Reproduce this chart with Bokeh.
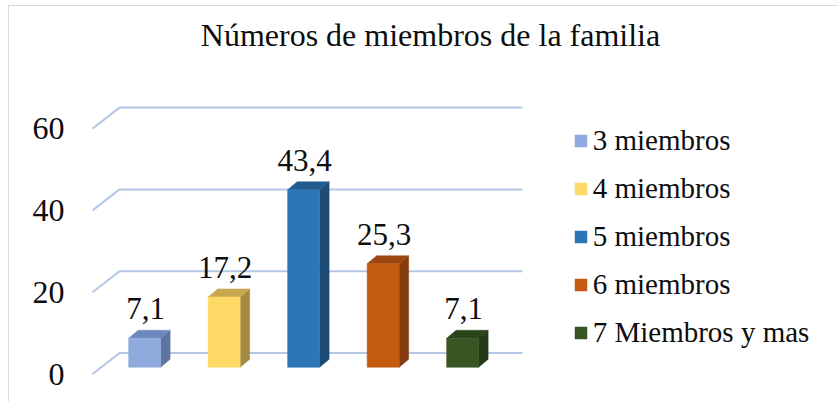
from bokeh.plotting import figure
from bokeh.models import Range1d, FixedTicker, Legend, LegendItem, Label, ColumnDataSource
from bokeh.embed import file_html
from bokeh.resources import INLINE

# ---------------- data ----------------
title_text = "Números de miembros de la familia"
categories = ["3 miembros", "4 miembros", "5 miembros", "6 miembros", "7 Miembros y mas"]
values = [7.1, 17.2, 43.4, 25.3, 7.1]
value_labels = ["7,1", "17,2", "43,4", "25,3", "7,1"]
y_ticks = [0, 20, 40, 60]
front_colors = ["#8FAADC", "#FFD966", "#2E75B6", "#C55A11", "#375623"]
top_colors = ["#6D88BD", "#C9A74F", "#245C90", "#9B470F", "#2C441C"]
side_colors = ["#5F749E", "#A38A40", "#1F4B77", "#843C0C", "#253B17"]

# ---------------- geometry ----------------
OX, OY = 9, 6            # figure content origin in the page
W, H = 839 - OX, 402 - OY
FL = 74                  # frame left (page px)
ML = FL - OX
PX_X = 79.5              # pixels per category
PX_Y = 4.09              # pixels per value unit
X0 = (FL - 135.5) / PX_X
Y0 = (373.5 - 402) / PX_Y

DEPTH_DX = 27 / PX_X     # front plane -> back wall
DEPTH_DY = 21 / PX_Y
BAR_PLANE = 0.32         # relative depth of bar front faces
BAR_DX = 9.5 / PX_X      # bar depth
BAR_DY = 8 / PX_Y
HALF_W = 16 / PX_X
WALL_END = 0.862         # back wall extends past last category

TXT = "#0D0D0D"
FONT = "Liberation Serif"

p = figure(width=W, height=H, output_backend="svg", toolbar_location=None,
           x_axis_location=None, y_axis_location="left",
           x_range=Range1d(X0, X0 + (W - ML) / PX_X),
           y_range=Range1d(Y0, Y0 + (402 - OY) / PX_Y),
           min_border_left=ML, min_border_right=0, min_border_top=0, min_border_bottom=0)
p.outline_line_color = None
p.grid.grid_line_color = None
p.background_fill_color = "white"
p.border_fill_color = "white"

yax = p.yaxis[0]
yax.ticker = FixedTicker(ticks=y_ticks)
yax.axis_line_color = None
yax.major_tick_line_color = None
yax.minor_tick_line_color = None
yax.major_label_standoff = 4
yax.major_label_text_font = FONT
yax.major_label_text_font_size = "32px"
yax.major_label_text_color = TXT

# ---------------- walls / gridlines ----------------
n = len(categories)
fx = -0.547
bx = fx + DEPTH_DX
ex = (n - 1) + WALL_END
gx, gy = [], []
for t in y_ticks:
    gx.append([fx, bx, ex])
    gy.append([t, t + DEPTH_DY, t + DEPTH_DY])
p.multi_line(gx, gy, line_color="#B4C7E7", line_width=2)

# ---------------- bars ----------------
ox = BAR_PLANE * DEPTH_DX
oy = BAR_PLANE * DEPTH_DY
lefts = [i + ox - HALF_W for i in range(n)]
rights = [i + ox + HALF_W for i in range(n)]
bottoms = [oy] * n
tops = [oy + v for v in values]

side_xs = [[r, r + BAR_DX, r + BAR_DX, r] for r in rights]
side_ys = [[b, b + BAR_DY, t + BAR_DY, t] for b, t in zip(bottoms, tops)]
top_xs = [[l, r, r + BAR_DX, l + BAR_DX] for l, r in zip(lefts, rights)]
top_ys = [[t, t, t + BAR_DY, t + BAR_DY] for t in tops]

p.patches(side_xs, side_ys, fill_color=side_colors, line_color=side_colors, line_width=0.5)
p.patches(top_xs, top_ys, fill_color=top_colors, line_color=top_colors, line_width=0.5)
src = ColumnDataSource(dict(left=lefts, right=rights, bottom=bottoms, top=tops,
                            color=front_colors, cat=categories))
fr = p.quad(left="left", right="right", bottom="bottom", top="top", source=src,
            fill_color="color", line_color="color", line_width=0.5)

# ---------------- data labels ----------------
lab_src = ColumnDataSource(dict(x=[i + ox + 0.0126 for i in range(n)],
                                y=[t + BAR_DY + 21.5 / PX_Y for t in tops],
                                text=value_labels))
p.text(x="x", y="y", text="text", source=lab_src, text_align="center",
       text_baseline="alphabetic", text_font_size="31px", text_color=TXT,
       text_font={"value": FONT})

# ---------------- title ----------------
p.add_layout(Label(x=356, y=368, x_units="screen", y_units="screen",
                   text=title_text, text_align="center", text_baseline="alphabetic",
                   text_font=FONT, text_font_size="32px", text_color=TXT))

# ---------------- legend ----------------
items = [LegendItem(label=c, renderers=[fr], index=i) for i, c in enumerate(categories)]
leg = Legend(items=items, location=(498.7, 53.5), orientation="vertical",
             glyph_width=15, glyph_height=15, label_standoff=5, label_height=33,
             spacing=15, padding=0, margin=0, border_line_color=None,
             background_fill_alpha=0, label_text_font=FONT, label_text_font_size="29px",
             label_text_color=TXT)
p.add_layout(leg, "center")

p.styles = {"border-left": "1px solid #D9D9D9", "border-top": "1px solid #D9D9D9",
            "margin-left": "8px", "margin-top": "5px"}

open("out.html", "w").write(file_html(p, INLINE))
